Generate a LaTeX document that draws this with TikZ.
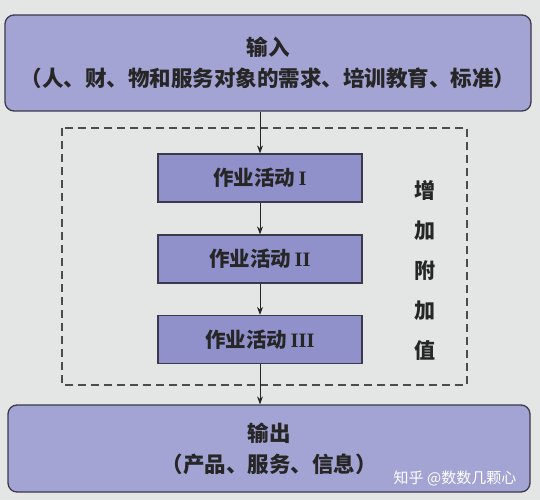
\documentclass[tikz,border=0pt]{standalone}
\usepackage{fontspec}
\setmainfont{Liberation Serif}
\newfontfamily\cjk{Noto Sans CJK SC}
\usetikzlibrary{arrows.meta}
\definecolor{pagebg}{HTML}{E4E6E6}
\definecolor{bigfill}{HTML}{A4A4D4}
\definecolor{smallfill}{HTML}{9090CA}
\definecolor{edge}{HTML}{3A3A4A}
\tikzset{
  bigbox/.style={draw=edge, line width=1.3pt, fill=bigfill, rounded corners=9pt, align=center,
    font=\cjk\bfseries\fontsize{21.5}{31}\selectfont, text=black!85},
  actbox/.style={draw=edge, line width=1.2pt, fill=smallfill, minimum width=204pt, minimum height=48pt,
    font=\cjk\bfseries\fontsize{20.5}{24}\selectfont, text=black!85},
  flow/.style={draw=black!85, line width=0.9pt, -{Stealth[length=8pt,width=6pt]}},
  zone/.style={draw=black!70, line width=1.3pt, dash pattern=on 8pt off 5pt},
  sidetext/.style={font=\cjk\bfseries\fontsize{21}{40}\selectfont, align=center, text=black!85},
  wmtext/.style={font=\cjk\fontsize{15}{17}\selectfont, text=white}
}
\begin{document}
\begin{tikzpicture}[x=1pt,y=-1pt]
\fill[pagebg] (0,0) rectangle (540,500);
\useasboundingbox (0,0) rectangle (540,500);
\node[bigbox, minimum width=526pt, minimum height=96pt] (in) at (268,63)
  {输入\\（人、财、物和服务对象的需求、培训教育、标准）};
\draw[zone] (62,128) rectangle (467,385);
\node[actbox] (a1) at (260,178) {作业活动\,\textrm{I}};
\node[actbox] (a2) at (260,259) {作业活动\,\textrm{II}};
\node[actbox] (a3) at (260,339.5) {作业活动\,\textrm{III}};
\node[sidetext] (side) at (425,270) {增\\加\\附\\加\\值};
\node[bigbox, minimum width=522pt, minimum height=87pt] (out) at (269,448.5)
  {输出\\（产品、服务、信息）};
\coordinate (inbot) at (a1.north |- in.south);
\coordinate (outtop) at (a3.south |- out.north);
\draw[flow] (inbot) -- (a1.north);
\draw[flow] (a1.south) -- (a2.north);
\draw[flow] (a2.south) -- (a3.north);
\draw[flow] (a3.south) -- (outtop);
\node[wmtext] (wm) at (455,478) {知乎 @数数几颗心};
\end{tikzpicture}
\end{document}
